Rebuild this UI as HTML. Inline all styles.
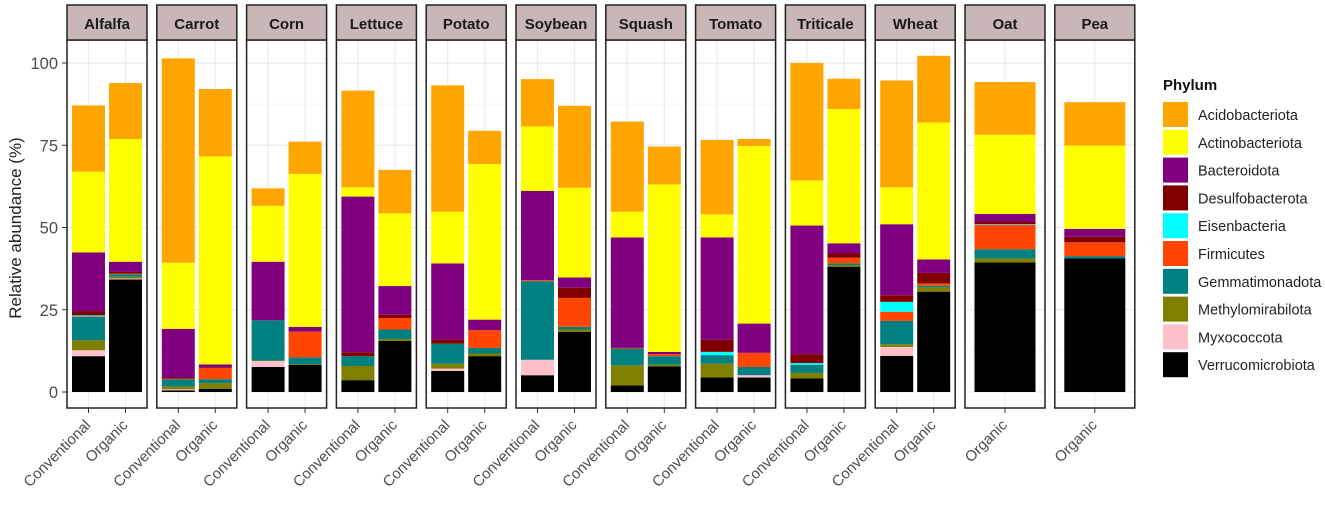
<!DOCTYPE html>
<html><head><meta charset="utf-8">
<style>
html,body{margin:0;padding:0;background:#fff;}
svg{display:block;font-family:"Liberation Sans",Arial,sans-serif;}
</style></head>
<body>
<svg id="chart" width="1325" height="510" viewBox="0 0 1325 510" xmlns="http://www.w3.org/2000/svg">
<text x="0" y="0" transform="translate(21,228) rotate(-90)" text-anchor="middle" font-size="17" fill="#222">Relative abundance (%)</text>
</svg>
<script>
const crops = ["Alfalfa","Carrot","Corn","Lettuce","Potato","Soybean","Squash","Tomato","Triticale","Wheat","Oat","Pea"];
const phyla = ["Verrucomicrobiota","Myxococcota","Methylomirabilota","Gemmatimonadota","Firmicutes","Eisenbacteria","Desulfobacterota","Bacteroidota","Actinobacteriota","Acidobacteriota"];
const legendOrder = ["Acidobacteriota","Actinobacteriota","Bacteroidota","Desulfobacterota","Eisenbacteria","Firmicutes","Gemmatimonadota","Methylomirabilota","Myxococcota","Verrucomicrobiota"];
const colors = {Acidobacteriota:"#FFA500",Actinobacteriota:"#FFFF00",Bacteroidota:"#800080",Desulfobacterota:"#800000",Eisenbacteria:"#00FFFF",Firmicutes:"#FF4500",Gemmatimonadota:"#008080",Methylomirabilota:"#808000",Myxococcota:"#FFC0CB",Verrucomicrobiota:"#000000"};
const yTicks = [0,25,50,75,100];
const conventional = {
 Alfalfa:[10.9,1.8,3.0,7.1,0.2,0.3,1.3,17.8,24.6,20.1],
 Carrot:[0.5,0.3,0.9,2.2,0.2,0,0.3,14.8,20.1,62.1],
 Corn:[7.6,1.8,0.2,12.2,0,0,0,17.8,17.0,5.3],
 Lettuce:[3.6,0,4.3,3.0,0,0,1.2,47.3,2.8,29.4],
 Potato:[6.4,0.7,1.5,6.1,0,0,1.3,23.1,15.7,38.4],
 Soybean:[5.1,4.7,0,23.9,0.3,0,0,27.1,19.6,14.4],
 Squash:[2.0,0,6.1,5.1,0.2,0,0,33.6,7.8,27.4],
 Tomato:[4.4,0,4.2,2.6,0,1.0,3.7,31.1,7.0,22.6],
 Triticale:[4.1,0,1.7,2.5,0,0.5,2.7,39.1,13.7,35.7],
 Wheat:[11.0,2.7,0.8,7.1,2.8,3.0,2.0,21.6,11.2,32.5]
};
const organic = {
 Alfalfa:[34.2,0.3,0.5,0.8,0.2,0,0.5,3.1,37.3,17.0],
 Carrot:[1.0,0,1.7,1.2,3.4,0,0.2,0.9,63.2,20.5],
 Corn:[8.3,0,0.2,2.0,7.8,0,0.2,1.3,46.5,9.8],
 Lettuce:[15.5,0,0.6,2.9,3.5,0,1.0,8.7,22.1,13.2],
 Potato:[10.9,0,0.8,1.7,5.4,0,0,3.2,47.3,10.1],
 Soybean:[18.3,0,0.7,0.8,8.8,0,3.1,3.1,27.3,24.9],
 Squash:[7.8,0,0.5,2.6,0.6,0,0,0.7,50.9,11.5],
 Tomato:[4.4,0.7,0,2.5,4.3,0,0,8.9,54.0,2.1],
 Triticale:[38.1,0,0.5,0.5,1.7,0,1.3,3.1,40.8,9.2],
 Wheat:[30.5,0,1.3,0.5,0.7,0,3.2,4.1,41.6,20.3],
 Oat:[39.4,0,1.2,2.8,7.4,0.2,0.8,2.3,24.1,16.0],
 Pea:[40.6,0,0,0.7,4.2,0,1.7,2.4,25.3,13.2]
};

const NS="http://www.w3.org/2000/svg";
const svg=document.getElementById('chart');
function el(tag,attrs,parent){const e=document.createElementNS(NS,tag);for(const k in attrs)e.setAttribute(k,attrs[k]);(parent||svg).appendChild(e);return e;}
const Y0=392, PX=3.29;
function yScale(v){return Y0 - v*PX;}
const PANEL_X0=67, PANEL_STEP=89.8, PANEL_W=80, PANEL_TOP=40, PANEL_BOT=408;

yTicks.forEach(t=>{
  const tx=el('text',{x:58,y:yScale(t)+6,'text-anchor':'end','font-size':16.5,fill:'#4d4d4d'});
  
  
  tx.textContent=t;
  const tk=el('line',{x1:62,x2:67,y1:yScale(t),y2:yScale(t),stroke:'#333','stroke-width':1});
  
  
});

crops.forEach((crop,i)=>{
  const px=PANEL_X0+i*PANEL_STEP;
  const g=el('g',{});
  
  
  el('rect',{x:px,y:PANEL_TOP,width:PANEL_W,height:PANEL_BOT-PANEL_TOP,fill:'#fff'},g);
  for(let v=0;v<=100;v+=12.5){
    const major=(v%25===0);
    const gl=el('line',{x1:px,x2:px+PANEL_W,y1:yScale(v),y2:yScale(v),stroke:'#ebebeb','stroke-width':major?1.2:0.6},g);
    
    
  }
  const bars=[];
  if(conventional[crop]){
    bars.push({label:'Conventional',vals:conventional[crop],cx:px+21.5,w:33});
    bars.push({label:'Organic',vals:organic[crop],cx:px+58.5,w:33});
  } else {
    bars.push({label:'Organic',vals:organic[crop],cx:px+40,w:61});
  }
  bars.forEach(b=>{
    el('line',{x1:b.cx,x2:b.cx,y1:PANEL_TOP,y2:PANEL_BOT,stroke:'#ebebeb','stroke-width':1.2},g);
    let cum=0;
    b.vals.forEach((v,k)=>{
      if(v<=0)return;
      const r=el('rect',{x:b.cx-b.w/2,y:yScale(cum+v),width:b.w,height:v*PX,fill:colors[phyla[k]]},g);
      
      
      cum+=v;
    });
    const tk=el('line',{x1:b.cx,x2:b.cx,y1:PANEL_BOT,y2:PANEL_BOT+5,stroke:'#333','stroke-width':1});
    
    
    const lt=el('text',{x:0,y:0,transform:'translate('+(b.cx+3)+','+(PANEL_BOT+18)+') rotate(-45)','text-anchor':'end','font-size':15,fill:'#4d4d4d'});
    
    
    lt.textContent=b.label;
  });
  el('rect',{x:px,y:PANEL_TOP,width:PANEL_W,height:PANEL_BOT-PANEL_TOP,fill:'none',stroke:'#222','stroke-width':1.5},g);
  const strip=el('rect',{x:px,y:5,width:PANEL_W,height:35,fill:'#c9b7b7',stroke:'#222','stroke-width':1.5});
  
  
  const st=el('text',{x:px+PANEL_W/2,y:29,'text-anchor':'middle','font-size':15,'font-weight':'bold',fill:'#1a1a1a'});
  
  
  st.textContent=crop;
});

const lt=el('text',{x:1163,y:90,'font-size':15,'font-weight':'bold',fill:'#111'});


lt.textContent='Phylum';
legendOrder.forEach((p,i)=>{
  const y=102+i*27.8;
  const g=el('g',{});
  
  
  el('rect',{x:1163,y:y,width:25,height:25,fill:colors[p]},g);
  const t=el('text',{x:1198,y:y+18,'font-size':14.5,fill:'#222'},g);
  t.textContent=p;
});
</script>
</body></html>
